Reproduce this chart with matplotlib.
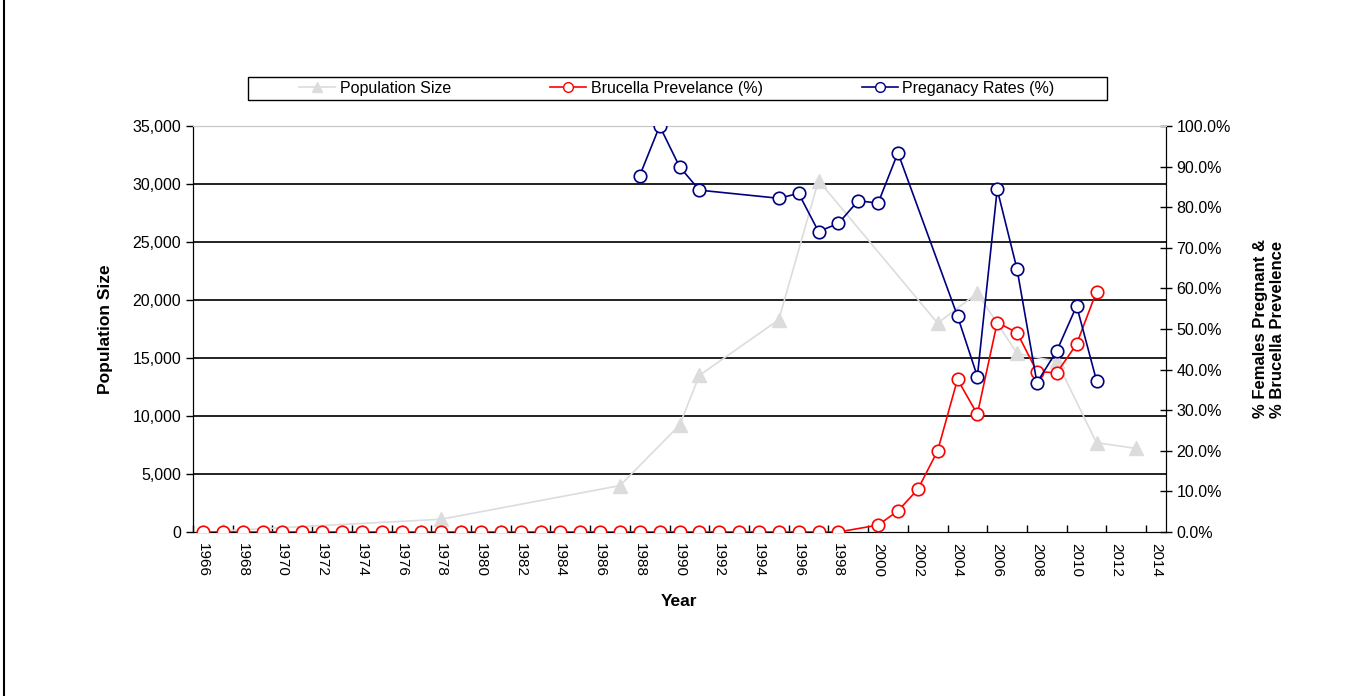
import matplotlib
matplotlib.use("Agg")
import matplotlib.pyplot as plt
from matplotlib.ticker import FuncFormatter, MultipleLocator
from matplotlib.lines import Line2D
from matplotlib.patches import Rectangle

plt.rcParams['font.family'] = ['Liberation Sans', 'DejaVu Sans']

# population size (sparse survey years)
pop_years = [1967, 1978, 1987, 1990, 1991, 1995, 1997, 2003, 2005, 2007, 2009, 2011, 2013]
pop_size = [100, 1100, 4000, 9200, 13500, 18300, 30300, 18000, 20600, 15400, 14700, 7700, 7200]

# brucella prevalence (%)
bru_years = list(range(1966, 1999)) + list(range(2000, 2012))
bru_prev = [0.0] * 33 + [1.7, 5.2, 10.5, 20.0, 37.6, 29.0, 51.6, 49.1, 39.5, 39.2, 46.3, 59.2]

# pregnancy rates (%)
preg_years = [1988, 1989, 1990, 1991, 1995, 1996, 1997, 1998, 1999, 2000, 2001,
              2004, 2005, 2006, 2007, 2008, 2009, 2010, 2011]
preg_rate = [87.8, 100.0, 90.0, 84.2, 82.2, 83.4, 74.0, 76.0, 81.6, 81.0, 93.4,
             53.2, 38.3, 84.4, 64.7, 36.8, 44.6, 55.7, 37.3]

label_years = list(range(1966, 2015, 2))

W, H = 1369, 696
fig = plt.figure(figsize=(W / 100, H / 100), dpi=100)
ax = fig.add_axes([193 / W, 1 - 532 / H, (1166 - 193) / W, (532 - 126) / H])
ax2 = ax.twinx()

# gridlines
for v in range(5000, 35000, 5000):
    ax.axhline(v, color="#222222", lw=1.4, zorder=0)

ax.plot(pop_years, pop_size, color="#dcdcdc", lw=1.2, marker="^", ms=10,
        mfc="#dcdcdc", mec="#dcdcdc", zorder=2)

ax2.plot(bru_years, bru_prev, color="red", lw=1.2, marker="o", ms=9,
         mfc="white", mec="red", mew=1.2, zorder=3)
ax2.plot(preg_years, preg_rate, color="#000080", lw=1.2, marker="o", ms=9,
         mfc="white", mec="#000080", mew=1.2, zorder=3)

ax.set_xlim(1965.5, 2014.5)
ax.set_ylim(0, 35000)
ax2.set_ylim(0, 100)

ax.set_xticks(label_years)
ax.set_xticklabels([str(y) for y in label_years], rotation=-90, fontsize=11)
ax.xaxis.set_minor_locator(MultipleLocator(2, offset=1.5))
ax.tick_params(axis="x", which="major", length=0, pad=8)
ax.tick_params(axis="x", which="minor", length=5, direction="in", width=1)

ax.yaxis.set_major_locator(MultipleLocator(5000))
ax.yaxis.set_major_formatter(FuncFormatter(lambda v, p: f"{int(v):,}"))
ax.tick_params(axis="y", length=5, direction="out", width=1, labelsize=11.5)

ax2.yaxis.set_major_locator(MultipleLocator(10))
ax2.yaxis.set_major_formatter(FuncFormatter(lambda v, p: f"{v:.1f}%"))
ax2.tick_params(axis="y", length=8, direction="inout", width=1, labelsize=11.5)

for a in (ax, ax2):
    a.spines["top"].set_color("#c8c8c8")
    a.spines["left"].set_color("black")
    a.spines["right"].set_color("black")
    a.spines["bottom"].set_color("black")

ax.set_xlabel("Year", fontsize=12.5, fontweight="bold", labelpad=12)
ax.set_ylabel("Population Size", fontsize=12.5, fontweight="bold", labelpad=14)
ax2.set_ylabel("% Females Pregnant &\n% Brucella Prevelence", fontsize=12,
               fontweight="bold", labelpad=16, rotation=90)

# legend: box drawn separately so the entries can sit like the original
fig.add_artist(Rectangle((248 / W, 1 - 100 / H), (1107 - 248) / W, 23 / H,
                         transform=fig.transFigure, fill=False, ec="black", lw=1.0))
handles = [
    Line2D([], [], color="#dcdcdc", lw=1.2, marker="^", ms=7, mfc="#dcdcdc", mec="#dcdcdc"),
    Line2D([], [], color="red", lw=1.2, marker="o", ms=7, mfc="white", mec="red"),
    Line2D([], [], color="#000080", lw=1.2, marker="o", ms=7, mfc="white", mec="#000080"),
]
fig.legend(handles, ["Population Size", "Brucella Prevelance (%)", "Preganacy Rates (%)"],
           loc="center left", ncol=3, fontsize=11.5,
           bbox_to_anchor=(299 / W, 1 - 88.5 / H), borderaxespad=0, borderpad=0,
           frameon=False, handlelength=2.25, handletextpad=0.3, columnspacing=6.2)

# outer chart frame on the left edge
fig.add_artist(Line2D([4 / W, 4 / W], [0, 1], color="black", lw=1.5,
                      transform=fig.transFigure))

fig.savefig("out.png", dpi=100)
